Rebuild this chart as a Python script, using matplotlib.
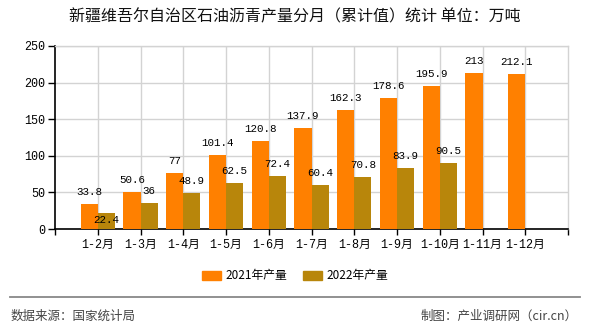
import numpy as np
import matplotlib.pyplot as plt
from matplotlib.lines import Line2D
from matplotlib.patches import Patch

plt.rcParams['font.family'] = ['Noto Sans CJK SC', 'DejaVu Sans']

# ---------- data ----------
months = ["1-2月", "1-3月", "1-4月", "1-5月", "1-6月", "1-7月",
          "1-8月", "1-9月", "1-10月", "1-11月", "1-12月"]
output_2021 = [33.8, 50.6, 77, 101.4, 120.8, 137.9, 162.3, 178.6, 195.9, 213, 212.1]
output_2022 = [22.4, 36, 48.9, 62.5, 72.4, 60.4, 70.8, 83.9, 90.5, np.nan, np.nan]

C21 = "#FF8000"
C22 = "#B8860B"
MONO = ['Liberation Mono', 'Noto Sans CJK SC']

W, H = 590, 330
fig = plt.figure(figsize=(W / 100, H / 100), dpi=100)
ax = fig.add_axes([55 / W, 1 - 229 / H, (568 - 55) / W, (229 - 46) / H])

x = np.arange(len(months))
bw = 0.4
ax.bar(x - bw / 2, output_2021, bw, color=C21, zorder=3)
ax.bar(x + bw / 2, output_2022, bw, color=C22, zorder=3)

ax.set_xlim(-1, len(months))
ax.set_ylim(0, 250)
ax.set_yticks(range(0, 251, 50))
ax.set_xticks(x)
ax.set_xticklabels(months, family=MONO, fontsize=8.5)
for lab in ax.get_yticklabels():
    lab.set_family(MONO)
    lab.set_fontsize(8.5)
ax.set_xticks([-1, len(months)], minor=True)
ax.tick_params(axis='x', which='both', length=4, width=1, color='black', pad=3)
ax.tick_params(axis='y', length=5, width=1, color='black', pad=2)

ax.grid(True, color='#D3D3D3', linewidth=1, zorder=0)
for s in ('left', 'bottom'):
    ax.spines[s].set_color('black')
    ax.spines[s].set_linewidth(1.2)
for s in ('top', 'right'):
    ax.spines[s].set_color('#D3D3D3')
    ax.spines[s].set_linewidth(1)

# value labels; drop the 2022 label inside its bar when it would collide with the 2021 one
px_per_unit = (229 - 46) / 250
lift = 12
for i, (a, b) in enumerate(zip(output_2021, output_2022)):
    ax.annotate(f"{a:g}", (x[i] - bw / 2, a), xytext=(0, lift * 0.72),
                textcoords='offset points', ha='center', va='center',
                family=MONO, fontsize=7.8, zorder=4)
    if np.isnan(b):
        continue
    gap = (a - b) * px_per_unit
    dy = lift if gap >= 10 else -7
    ax.annotate(f"{b:g}", (x[i] + bw / 2, b), xytext=(0, dy * 0.72),
                textcoords='offset points', ha='center', va='center',
                family=MONO, fontsize=7.8, zorder=4)

fig.text(0.5, 1 - 17 / H, "新疆维吾尔自治区石油沥青产量分月（累计值）统计 单位：万吨",
         ha='center', va='center', fontsize=11.5, color='#111111')

handles = [Patch(color=C21), Patch(color=C22)]
fig.legend(handles, ["2021年产量", "2022年产量"], loc='center',
           bbox_to_anchor=(0.5, 1 - 276 / H), ncol=2, frameon=False,
           fontsize=8.5, handlelength=1.6, handleheight=0.9,
           handletextpad=0.4, columnspacing=1.3)

fig.add_artist(Line2D([10 / W, 580 / W], [1 - 297 / H] * 2,
                      color='#888888', linewidth=1.3, transform=fig.transFigure))
fig.text(11 / W, 1 - 316 / H, "数据来源：国家统计局", ha='left', va='center',
         fontsize=9, color='#444444')
fig.text(578 / W, 1 - 316 / H, "制图：产业调研网（cir.cn）", ha='right', va='center',
         fontsize=9, color='#444444')

fig.savefig("out.png", dpi=100)
